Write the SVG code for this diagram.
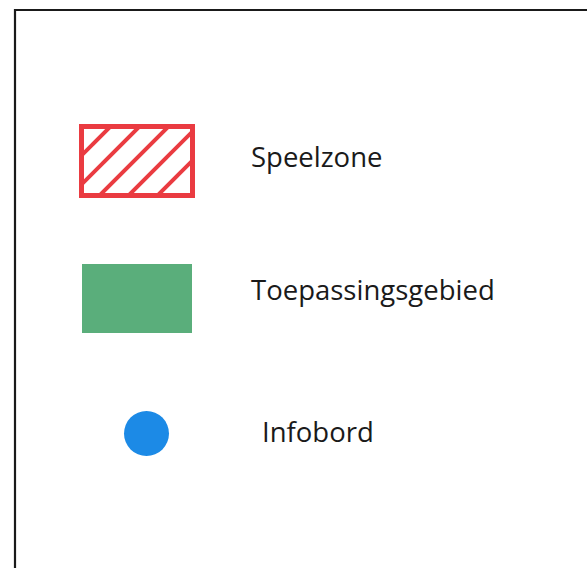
<svg xmlns="http://www.w3.org/2000/svg" width="587" height="568" viewBox="0 0 587 568">
<defs>
<style>
.lbl{font-family:"Open Sans","Noto Sans","Liberation Sans",sans-serif;font-size:27.5px;fill:#1a1a1a}
.hatch{stroke:#ea3b41;stroke-width:4;fill:none}
</style>
<clipPath id="rc"><rect x="81.5" y="126.5" width="111" height="69"/></clipPath>
</defs>
<rect width="587" height="568" fill="#ffffff"/>
<path d="M15,568 V10 H587" fill="none" stroke="#1a1a1a" stroke-width="2.2"/>
<g id="speelzone">
<g clip-path="url(#rc)" class="hatch">
<line x1="37" y1="200" x2="117" y2="120"/>
<line x1="66" y1="200" x2="146" y2="120"/>
<line x1="95" y1="200" x2="175" y2="120"/>
<line x1="124" y1="200" x2="204" y2="120"/>
<line x1="153" y1="200" x2="233" y2="120"/>
</g>
<rect x="81.5" y="126.5" width="111" height="69" fill="none" stroke="#ea3b41" stroke-width="5"/>
<text class="lbl" x="251" y="166.5">Speelzone</text>
</g>
<g id="toepassingsgebied">
<rect x="82" y="264" width="110" height="69" fill="#5aae7b"/>
<text class="lbl" x="251" y="299.5">Toepassingsgebied</text>
</g>
<g id="infobord">
<circle cx="146.5" cy="433.5" r="22.5" fill="#1c8ae6"/>
<text class="lbl" x="262" y="442">Infobord</text>
</g>
<g id="connectors"/>
</svg>
